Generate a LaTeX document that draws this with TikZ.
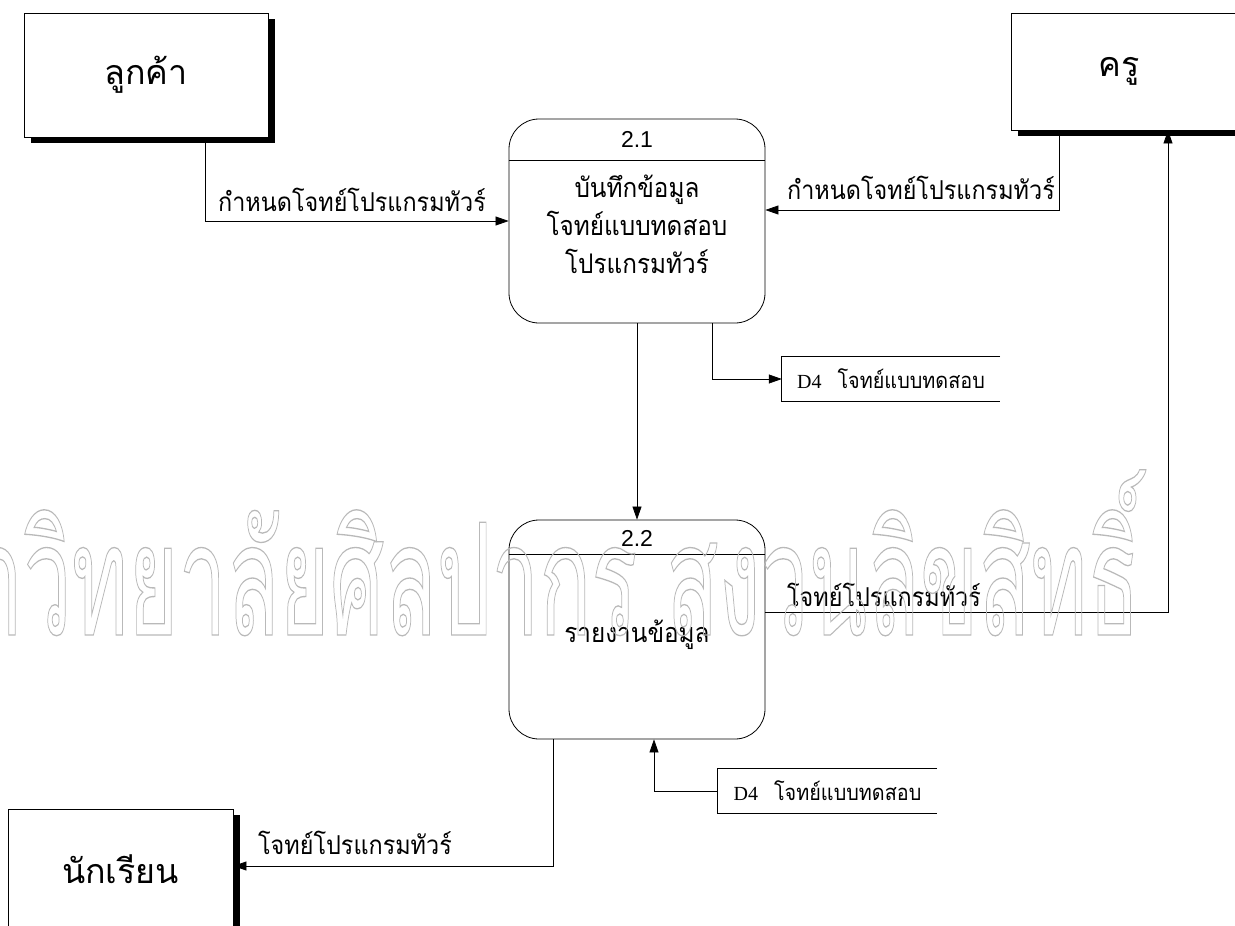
\documentclass[tikz,border=0pt]{standalone}
\usepackage{fontspec}
\usetikzlibrary{arrows.meta,shadows}
\setmainfont{Liberation Serif}
\newfontfamily\thaifont[Script=Thai]{Loma}
\newfontfamily\thainarrow[Script=Thai,FakeStretch=0.9]{Loma}
\newfontfamily\numfont{Liberation Sans}
\definecolor{markgray}{RGB}{185,185,185}
% stroked (outlined) glyphs via the PDF text rendering mode
\newcommand{\strokedtext}[1]{\special{pdf:literal direct 1 Tr 1.1 w}#1\special{pdf:literal direct 0 Tr}}

\begin{document}
\begin{tikzpicture}[x=1pt,y=-1pt,
  entity/.style={draw=black, line width=0.8pt, fill=white, inner sep=0pt,
    font=\thaifont\fontsize{34}{40}\selectfont,
    general shadow={fill=black, shadow xshift=7pt, shadow yshift=-6pt}},
  process/.style={draw=black, line width=0.8pt, fill=white, rounded corners=30pt,
    minimum width=256pt, minimum height=204pt, inner sep=0pt},
  divider/.style={draw=black, line width=0.7pt},
  num/.style={inner sep=0pt, font=\numfont\fontsize{23}{26}\selectfont},
  ptext/.style={inner sep=0pt, align=center, font=\thainarrow\fontsize{27}{38}\selectfont},
  store/.style={inner sep=0pt, minimum height=44pt, font=\thainarrow\fontsize{22}{26}\selectfont},
  storeline/.style={draw=black, line width=0.7pt},
  flow/.style={draw=black, line width=0.7pt, -{Triangle[length=13pt,width=9pt]}},
  flowlabel/.style={inner sep=0pt, font=\thainarrow\fontsize{26}{30}\selectfont},
]
\useasboundingbox (0,0) rectangle (1235,926);
\clip (0,0) rectangle (1235,926);

% external entities
\node[entity, minimum width=244pt, minimum height=124pt] (cust) at (146,75) {\raisebox{-5pt}{ลูกค้า}};
\node[entity, minimum width=226pt, minimum height=117pt] (teach) at (1124,71.5) {\hspace*{-10pt}\raisebox{-9pt}{ครู}};
\node[entity, minimum width=225pt, minimum height=121pt] (stud) at (120.5,869.5) {\raisebox{-2pt}{นักเรียน}};

% processes
\node[process] (p21) at (637,221) {};
\node[process, minimum height=219pt] (p22) at (637,629.5) {};
\path (p21.north) ++(0,42) coordinate (d1);
\path (p22.north) ++(0,35) coordinate (d2);
\draw[divider] (d1 -| p21.west) -- (d1 -| p21.east);
\draw[divider] (d2 -| p22.west) -- (d2 -| p22.east);
\node[num] (n21) at (637,139) {2.1};
\node[num] (n22) at (637,538) {2.2};
\node[ptext] (t21) at (637,224) {บันทึกข้อมูล\\โจทย์แบบทดสอบ\\โปรแกรมทัวร์};
\node[ptext] (t22) at (637,635) {รายงานข้อมูล};

% data stores
\node[store, minimum width=218pt] (d4a) at (891,379) {{\rmfamily\fontsize{20}{24}\selectfont D4}\hspace{16pt}โจทย์แบบทดสอบ};
\draw[storeline] (d4a.north east) -- (d4a.north west) -- (d4a.south west) -- (d4a.south east);
\node[store, minimum width=219pt] (d4b) at (827.5,791) {{\rmfamily\fontsize{20}{24}\selectfont D4}\hspace{16pt}โจทย์แบบทดสอบ};
\draw[storeline] (d4b.north east) -- (d4b.north west) -- (d4b.south west) -- (d4b.south east);

% data flows
\coordinate (k1) at (205,222);
\coordinate (k2) at (1059,210);
\coordinate (k3) at (1168,612);
\coordinate (k4) at (553,866);
\coordinate (k5) at (654,790);
\coordinate (k6) at (712,377);
\draw[flow] (cust.south -| k1) |- (p21.west);
\draw[flow] (teach.south -| k2) -- (k2) -- (k2 -| p21.east);
\draw[flow] (p21.south) -- (p22.north);
\draw[flow] (p21.south -| k6) |- (d4a.west);
\draw[flow] (k3 -| p22.east) -- (k3) -- (k3 |- teach.south);
\draw[flow] (p22.south -| k4) -- (k4) -- (k4 -| stud.east);
\draw[flow] (d4b.west) -| (p22.south -| k5);

\node[flowlabel] (l1) at (352,200) {กำหนดโจทย์โปรแกรมทัวร์};
\node[flowlabel] (l2) at (921,188) {กำหนดโจทย์โปรแกรมทัวร์};
\node[flowlabel] (l3) at (884,595) {โจทย์โปรแกรมทัวร์};
\node[flowlabel] (l4) at (355,843) {โจทย์โปรแกรมทัวร์};

% outlined watermark across the middle
\node[inner sep=0pt, anchor=base east, text=markgray] (wm) at (1140,635)
  {\scalebox{0.66}[1.2]{\thaifont\fontsize{130}{140}\selectfont\strokedtext{มหาวิทยาลัยศิลปากร สงวนลิขสิทธิ์}}};
\end{tikzpicture}
\end{document}
